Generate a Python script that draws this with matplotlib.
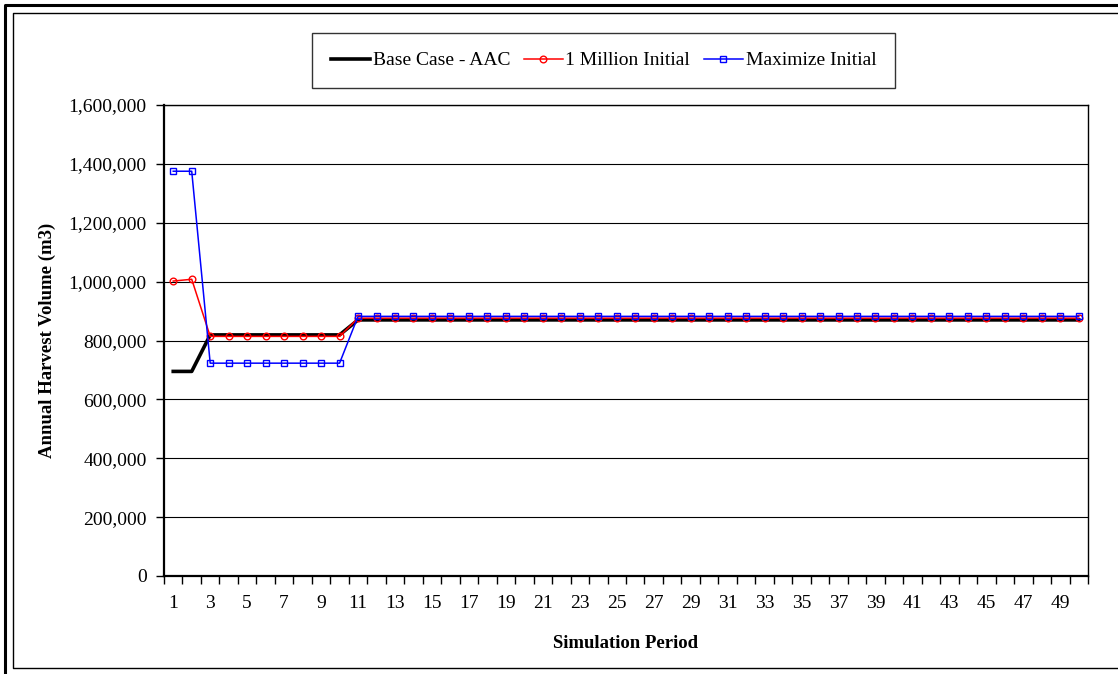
import matplotlib
matplotlib.use("Agg")
import matplotlib.pyplot as plt
from matplotlib.lines import Line2D
from matplotlib.ticker import FuncFormatter, FixedLocator

plt.rcParams['font.family'] = ['Liberation Serif', 'DejaVu Serif']

periods = list(range(1, 51))
base_case = [695000, 695000] + [819000] * 8 + [870000] * 40
one_million = [1002000, 1008000] + [814000] * 8 + [876000] * 40
maximize = [1375000, 1375000] + [723000] * 8 + [882000] * 40

series_names = ["Base Case - AAC", "1 Million Initial", "Maximize Initial"]
y_ticks = [0, 200000, 400000, 600000, 800000, 1000000, 1200000, 1400000, 1600000]
x_labels = list(range(1, 50, 2))

W, H = 1118, 674
fig = plt.figure(figsize=(W / 100, H / 100), dpi=100)

# Frames
fig.add_artist(Line2D([5 / W, 5 / W, 1.0], [0.0, 1 - 5 / H, 1 - 5 / H], color='black', lw=2.2,
                      transform=fig.transFigure))
fig.add_artist(Line2D([1.0, 13 / W, 13 / W, 1.0], [1 - 13 / H, 1 - 13 / H, 6 / H, 6 / H],
                      color='black', lw=1.0, transform=fig.transFigure))

left, right, top, bottom = 164, 1088, 105, 576
ax = fig.add_axes([left / W, (H - bottom) / H, (right - left) / W, (bottom - top) / H])

ax.plot(periods, base_case, color='black', lw=2.6, label=series_names[0], zorder=3)
ax.plot(periods, one_million, color='red', lw=1.1, marker='o', markersize=4.8,
        markerfacecolor='none', markeredgecolor='red', markeredgewidth=1.0,
        label=series_names[1], zorder=4)
ax.plot(periods, maximize, color='blue', lw=1.1, marker='s', markersize=4.8,
        markerfacecolor='none', markeredgecolor='blue', markeredgewidth=1.0,
        label=series_names[2], zorder=5)

ax.set_xlim(0.5, 50.5)
ax.set_ylim(0, 1600000)
ax.set_yticks(y_ticks)
ax.yaxis.set_major_formatter(FuncFormatter(lambda v, p: f"{int(v):,}"))
ax.grid(axis='y', color='black', lw=0.8)
ax.set_axisbelow(True)

ax.xaxis.set_major_locator(FixedLocator(x_labels))
ax.set_xticklabels([str(v) for v in x_labels])
ax.xaxis.set_minor_locator(FixedLocator([i + 0.5 for i in range(0, 51)]))
ax.tick_params(axis='x', which='major', length=0, pad=14, labelsize=14)
ax.tick_params(axis='x', which='minor', length=6, width=1, direction='out')
ax.tick_params(axis='y', which='major', length=6, width=1, direction='out', pad=6.5, labelsize=14)

for s in ['left', 'bottom']:
    ax.spines[s].set_linewidth(1.6)
for s in ['top', 'right']:
    ax.spines[s].set_linewidth(1.0)

ax.set_ylabel("Annual Harvest Volume (m3)", fontsize=13.5, fontweight='bold', labelpad=9)
ax.set_xlabel("Simulation Period", fontsize=13.5, fontweight='bold', labelpad=16)

leg = fig.legend(loc='center', bbox_to_anchor=((317 + 890) / 2 / W, 1 - 60.5 / H), ncol=3,
                 frameon=True, fancybox=False, fontsize=14, handlelength=2.0,
                 columnspacing=0.7, handletextpad=0.15, borderpad=0.95, borderaxespad=0,
                 edgecolor='black')
leg.get_frame().set_linewidth(1.0)

fig.savefig("out.png", dpi=100)
